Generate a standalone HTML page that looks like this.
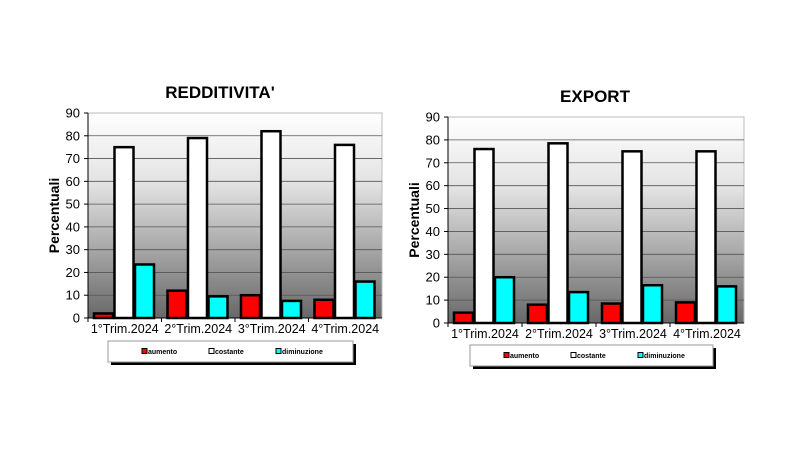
<!DOCTYPE html>
<html><head><meta charset="utf-8"><style>
body{margin:0;background:#fff;width:800px;height:450px;overflow:hidden}
svg{display:block;font-family:"Liberation Sans",sans-serif}
</style></head><body>
<svg id="s" width="800" height="450" viewBox="0 0 800 450" xmlns="http://www.w3.org/2000/svg">
<defs>
<linearGradient id="g" x1="0" y1="0" x2="0" y2="1">
<stop offset="0" stop-color="#ffffff"/><stop offset="0.35" stop-color="#e2e2e2"/><stop offset="1" stop-color="#686868"/>
</linearGradient>
</defs>
</svg>
<script>
var s=document.getElementById('s'),NS='http://www.w3.org/2000/svg';
function el(t,a,txt){var e=document.createElementNS(NS,t);for(var k in a)e.setAttribute(k,a[k]);if(txt!=null)e.textContent=txt;s.appendChild(e);return e;}
function chart(c){
 var x0=c.x0,x1=c.x1,yt=c.yt,yb=c.yb,h=yb-yt;
 el('text',{x:c.tx,y:c.ty,'text-anchor':'middle','font-size':17,'font-weight':'bold'},c.title);
 el('rect',{x:x0,y:yt,width:x1-x0,height:h,fill:'url(#g)',stroke:'#bbb','stroke-width':1});
 for(var i=0;i<=9;i++){var y=yb-h*i/9;
  if(i>0&&i<9)el('line',{x1:x0,x2:x1,y1:y,y2:y,stroke:'#555','stroke-width':0.8});
  el('line',{x1:x0-4,x2:x0,y1:y,y2:y,stroke:'#000','stroke-width':1});
  el('text',{x:x0-8,y:y+4.5,'text-anchor':'end','font-size':13},i*10);}
 el('line',{x1:x0,x2:x0,y1:yt,y2:yb,stroke:'#000'});
 el('line',{x1:x0,x2:x1,y1:yb,y2:yb,stroke:'#000'});
 var gw=(x1-x0)/4,cols=['#ff0000','#ffffff','#00ffff'];
 for(var g=0;g<4;g++){
  var gx=x0+g*gw;
  el('line',{x1:gx,x2:gx,y1:yb,y2:yb+4,stroke:'#000'});
  for(var b=0;b<3;b++){var v=c.d[b][g],bh=h*v/90,bx=gx+6+b*20.5;
   el('rect',{x:bx,y:yb-bh,width:19,height:bh,fill:cols[b],stroke:'#000','stroke-width':2.5});}
  el('text',{x:gx+gw/2,y:yb+15,'text-anchor':'middle','font-size':12.5},(g+1)+'°Trim.2024');}
 el('text',{x:0,y:0,'font-size':14,'font-weight':'bold','text-anchor':'middle',transform:'translate('+(x0-29)+','+((yt+yb)/2)+') rotate(-90)'},'Percentuali');
 var L=c.L;
 el('rect',{x:L[0]+3,y:L[1]+3,width:L[2]-L[0],height:L[3]-L[1],fill:'#000'});
 el('rect',{x:L[0],y:L[1],width:L[2]-L[0],height:L[3]-L[1],fill:'#fff',stroke:'#999'});
 var names=['aumento','costante','diminuzione'],ly=(L[1]+L[3])/2;
 for(var k=0;k<3;k++){var lx=L[0]+34+k*67;
  el('rect',{x:lx,y:ly-3,width:5,height:5,fill:cols[k],stroke:'#000','stroke-width':1});
  el('text',{x:lx+6,y:ly+2.5,'font-size':7,'font-weight':'bold'},names[k]);}
}
chart({title:"REDDITIVITA'",tx:220,ty:98,x0:88,x1:382,yt:113,yb:318,L:[108,341,353,362],
 d:[[2,12,10,8],[75,79,82,76],[23.5,9.5,7.5,16]]});
chart({title:"EXPORT",tx:595,ty:102,x0:448,x1:744,yt:117,yb:323,L:[470,345,713,366],
 d:[[4.5,8,8.5,9],[76,78.5,75,75],[20,13.5,16.5,16]]});
</script>
</body></html>
